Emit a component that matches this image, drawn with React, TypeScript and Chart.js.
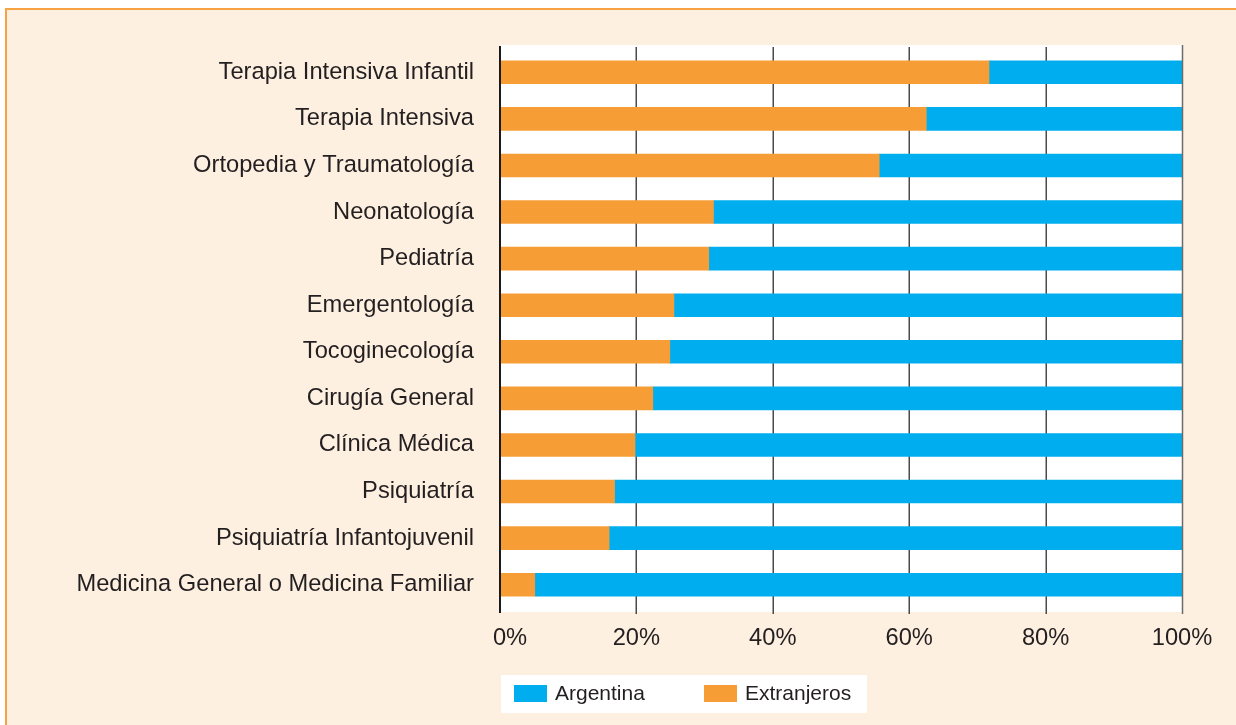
import React, { useEffect, useRef } from "react";
import { Chart, registerables } from "chart.js";

Chart.register(...registerables);

const categories: string[] = [
  "Terapia Intensiva Infantil",
  "Terapia Intensiva",
  "Ortopedia y Traumatología",
  "Neonatología",
  "Pediatría",
  "Emergentología",
  "Tocoginecología",
  "Cirugía General",
  "Clínica Médica",
  "Psiquiatría",
  "Psiquiatría Infantojuvenil",
  "Medicina General o Medicina Familiar",
];

const extranjeros: number[] = [71.7, 62.5, 55.6, 31.3, 30.6, 25.5, 24.9, 22.4, 19.8, 16.8, 16.0, 5.1];
const argentina: number[] = [28.3, 37.5, 44.4, 68.7, 69.4, 74.5, 75.1, 77.6, 80.2, 83.2, 84.0, 94.9];

const xTicks: number[] = [0, 20, 40, 60, 80, 100];
const xTickLabels: string[] = ["0%", "20%", "40%", "60%", "80%", "100%"];

const BLUE = "#00AEEF";
const ORANGE = "#F79D36";
const TEXT = "#231F20";
const FONT = '"Liberation Sans", Arial, Helvetica, sans-serif';

const decorPlugin = {
  id: "decor",
  beforeDraw(chart: any) {
    const { ctx, chartArea } = chart;
    ctx.save();
    ctx.fillStyle = "#FFFFFF";
    ctx.fillRect(chartArea.left, chartArea.top - 4, chartArea.right - chartArea.left, chartArea.bottom - chartArea.top + 8);
    ctx.restore();
  },
  beforeDatasetsDraw(chart: any) {
    const { ctx, chartArea, scales } = chart;
    const x = scales.x;
    ctx.save();
    ctx.strokeStyle = "#4a4a4a";
    ctx.lineWidth = 1.5;
    xTicks.forEach((v) => {
      if (v === 0 || v === 100) return;
      const px = Math.round(x.getPixelForValue(v)) + 0.25;
      ctx.beginPath();
      ctx.moveTo(px, chartArea.top - 2);
      ctx.lineTo(px, chartArea.bottom + 6);
      ctx.stroke();
    });
    ctx.restore();
  },
  afterDatasetsDraw(chart: any) {
    const { ctx, chartArea, scales } = chart;
    const x = scales.x;
    ctx.save();
    const pr = x.getPixelForValue(100) + 0.5;
    ctx.strokeStyle = "#6b6b6b";
    ctx.lineWidth = 1.5;
    ctx.beginPath();
    ctx.moveTo(pr, chartArea.top - 4);
    ctx.lineTo(pr, chartArea.bottom + 6);
    ctx.stroke();
    const p0 = x.getPixelForValue(0);
    ctx.strokeStyle = "#1a1a1a";
    ctx.lineWidth = 2;
    ctx.beginPath();
    ctx.moveTo(p0, chartArea.top - 3);
    ctx.lineTo(p0, chartArea.bottom + 5);
    ctx.stroke();
    ctx.restore();
  },
  afterDraw(chart: any) {
    const { ctx, chartArea, scales } = chart;
    const x = scales.x;
    ctx.save();
    ctx.fillStyle = TEXT;
    ctx.font = `23.7px ${FONT}`;
    ctx.textAlign = "center";
    ctx.textBaseline = "alphabetic";
    xTicks.forEach((v, i) => {
      const px = x.getPixelForValue(v) + (v === 0 ? 10 : 0);
      ctx.fillText(xTickLabels[i], px, chartArea.bottom + 37);
    });
    const lx = chartArea.left + 1;
    const ly = chartArea.bottom + 67;
    ctx.fillStyle = "#FFFFFF";
    ctx.fillRect(lx, ly, 366, 38);
    const ds = chart.data.datasets;
    const items = [ds[1], ds[0]];
    ctx.font = `21px ${FONT}`;
    ctx.textAlign = "left";
    items.forEach((d: any, i: number) => {
      const ox = lx + 13 + i * 190;
      ctx.fillStyle = d.backgroundColor;
      ctx.fillRect(ox, ly + 10, 33, 17);
      ctx.fillStyle = TEXT;
      ctx.fillText(d.label, ox + 41, ly + 25);
    });
    ctx.restore();
  },
};

export default function App() {
  const ref = useRef<HTMLCanvasElement | null>(null);

  useEffect(() => {
    if (!ref.current) return;
    const chart = new Chart(ref.current, {
      type: "bar",
      data: {
        labels: categories,
        datasets: [
          { label: "Extranjeros", data: extranjeros, backgroundColor: ORANGE, barThickness: 23, borderWidth: 0 },
          { label: "Argentina", data: argentina, backgroundColor: BLUE, barThickness: 23, borderWidth: 0 },
        ],
      },
      options: {
        indexAxis: "y",
        responsive: false,
        animation: false,
        devicePixelRatio: 1,
        layout: { padding: { top: 49, right: 54, bottom: 0, left: 0 } },
        plugins: {
          legend: { display: false },
          tooltip: { enabled: false },
        },
        scales: {
          x: {
            stacked: true,
            min: 0,
            max: 100,
            position: "bottom",
            grid: { display: false, drawTicks: false },
            border: { display: false },
            ticks: { display: false, stepSize: 20 },
            afterFit: (s: any) => {
              s.height = 117;
            },
          },
          y: {
            stacked: true,
            grid: { display: false, drawTicks: false },
            border: { display: false },
            ticks: {
              color: TEXT,
              padding: 26,
              font: { family: FONT, size: 23.7 },
            },
            afterFit: (s: any) => {
              s.width = 500;
            },
          },
        },
      },
      plugins: [decorPlugin],
    } as any);
    return () => chart.destroy();
  }, []);

  return (
    <div style={{ position: "absolute", left: 0, top: 0, width: 1236, height: 725, background: "#FFFFFF", overflow: "hidden" }}>
      <div
        style={{
          position: "absolute",
          left: 5,
          top: 8,
          width: 1260,
          height: 740,
          background: "#FDF0E1",
          borderTop: "2px solid #F7A243",
          borderLeft: "2px solid #F7A243",
        }}
      />
      <canvas ref={ref} width={1236} height={725} style={{ position: "absolute", left: 0, top: 0, width: 1236, height: 725 }} />
    </div>
  );
}
